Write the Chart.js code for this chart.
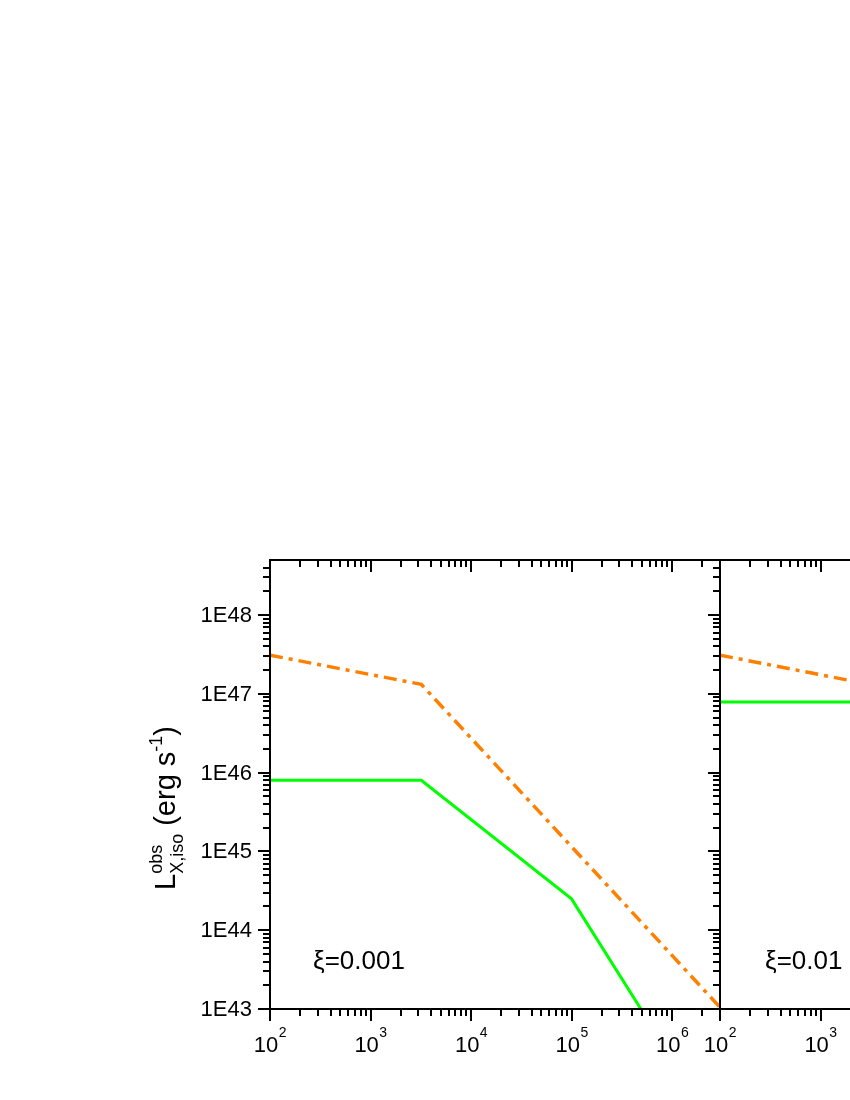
<!DOCTYPE html>
<html>
<head>
<meta charset="utf-8">
<script src="https://cdn.jsdelivr.net/npm/chart.js@4.4.1/dist/chart.umd.min.js"></script>
<style>
  html, body { margin: 0; padding: 0; overflow: hidden; background: #fff; }
  body { position: relative; width: 850px; height: 1100px; }
  canvas { position: absolute; top: 0; }
</style>
</head>
<body>
<canvas id="leftPanel" width="850" height="1100" style="left:0px"></canvas>
<canvas id="rightPanel" width="850" height="1100" style="left:450px"></canvas>
<script>
// axis ranges
const xMin = 1e2, xMax = 3e6;
const yMin = 1e43, yMax = 5e48;

// tick labels
const xTickValues = [1e2, 1e3, 1e4, 1e5, 1e6];
const xTickExponents = ["2", "3", "4", "5", "6"];
const yTickValues = [1e43, 1e44, 1e45, 1e46, 1e47, 1e48];
const yTickLabels = ["1E43", "1E44", "1E45", "1E46", "1E47", "1E48"];

// panel 1 (xi = 0.001)
const p1OrangeX = [1e2, 3.2e3, 1e5, 3e6];
const p1OrangeY = [3.1e47, 1.32e47, 1.15e45, 1.05e43];
const p1GreenX = [1e2, 3.2e3, 1e5, 4.9e5];
const p1GreenY = [8.0e45, 8.0e45, 2.5e44, 1e43];

// panel 2 (xi = 0.01), only the left part is visible
const p2OrangeX = [1e2, 2e3];
const p2OrangeY = [3.1e47, 1.47e47];
const p2GreenX = [1e2, 2e3];
const p2GreenY = [7.9e46, 7.9e46];

const FONT = "'Liberation Sans', Arial, Helvetica, sans-serif";

function toPoints(xs, ys) {
  return xs.map((x, i) => ({ x: x, y: ys[i] }));
}

function minorTicks(majors, max) {
  const out = [];
  majors.forEach(d => {
    for (let k = 2; k <= 9; k++) {
      if (d * k <= max) out.push(d * k);
    }
  });
  return out;
}

const framePlugin = {
  id: "frame",
  afterDraw(chart) {
    const opts = chart.options.plugins.frame;
    const ctx = chart.ctx;
    const area = chart.chartArea;
    const xs = chart.scales.x;
    const ys = chart.scales.y;
    const majLen = 12, minLen = 7;

    const xMajors = xTickValues.slice();
    const xMinors = minorTicks(xTickValues, xMax);
    const yMajors = yTickValues.slice();
    const yMinors = minorTicks(yTickValues, yMax);

    ctx.save();
    ctx.strokeStyle = "#000";
    ctx.lineWidth = 2;
    ctx.lineCap = "butt";

    // box
    ctx.strokeRect(area.left, area.top, area.right - area.left, area.bottom - area.top);

    ctx.beginPath();
    // bottom ticks (out) and top ticks (in)
    xMajors.forEach(v => {
      const px = Math.round(xs.getPixelForValue(v));
      ctx.moveTo(px, area.bottom); ctx.lineTo(px, area.bottom + majLen);
      ctx.moveTo(px, area.top); ctx.lineTo(px, area.top + majLen);
    });
    xMinors.forEach(v => {
      const px = Math.round(xs.getPixelForValue(v));
      ctx.moveTo(px, area.bottom); ctx.lineTo(px, area.bottom + minLen);
      ctx.moveTo(px, area.top); ctx.lineTo(px, area.top + minLen);
    });
    // left ticks (out)
    yMajors.forEach(v => {
      const py = Math.round(ys.getPixelForValue(v));
      ctx.moveTo(area.left, py); ctx.lineTo(area.left - majLen, py);
    });
    yMinors.forEach(v => {
      const py = Math.round(ys.getPixelForValue(v));
      ctx.moveTo(area.left, py); ctx.lineTo(area.left - minLen, py);
    });
    ctx.stroke();

    // x tick labels: "10" with raised exponent
    ctx.fillStyle = "#000";
    ctx.textBaseline = "alphabetic";
    xMajors.forEach((v, i) => {
      const px = xs.getPixelForValue(v);
      ctx.font = "22px " + FONT;
      const wBase = ctx.measureText("10").width;
      ctx.font = "14px " + FONT;
      const wExp = ctx.measureText(xTickExponents[i]).width;
      const x0 = px - (wBase + wExp) / 2;
      ctx.font = "22px " + FONT;
      ctx.textAlign = "left";
      ctx.fillText("10", x0, area.bottom + 43);
      ctx.font = "14px " + FONT;
      ctx.fillText(xTickExponents[i], x0 + wBase + 0.5, area.bottom + 28);
    });

    // y tick labels
    if (opts.yLabels) {
      ctx.font = "22px " + FONT;
      ctx.textAlign = "right";
      ctx.textBaseline = "middle";
      yMajors.forEach((v, i) => {
        ctx.fillText(yTickLabels[i], area.left - 18, ys.getPixelForValue(v) + 1);
      });
    }

    // y axis title
    if (opts.yTitle) {
      const big = "29px " + FONT, small = "18px " + FONT;
      const parts = [
        { t: "L", f: big, dy: 0 },
        { stack: [{ t: "obs", f: small, dy: -13 }, { t: "X,iso", f: small, dy: 8 }] },
        { t: " (erg s", f: big, dy: 0 },
        { t: "-1", f: small, dy: -13 },
        { t: ")", f: big, dy: 0 }
      ];
      let total = 0;
      parts.forEach(p => {
        if (p.stack) {
          p.w = Math.max(...p.stack.map(s => { ctx.font = s.f; return ctx.measureText(s.t).width; }));
        } else {
          ctx.font = p.f; p.w = ctx.measureText(p.t).width;
        }
        total += p.w;
      });
      ctx.translate(175, 808);
      ctx.rotate(-Math.PI / 2);
      ctx.textAlign = "left";
      ctx.textBaseline = "alphabetic";
      let cx = -total / 2;
      parts.forEach(p => {
        if (p.stack) {
          p.stack.forEach(s => { ctx.font = s.f; ctx.fillText(s.t, cx, s.dy); });
        } else {
          ctx.font = p.f; ctx.fillText(p.t, cx, p.dy);
        }
        cx += p.w;
      });
      ctx.setTransform(1, 0, 0, 1, 0, 0);
    }

    // panel annotation
    ctx.font = "26px " + FONT;
    ctx.textAlign = "left";
    ctx.textBaseline = "alphabetic";
    ctx.fillText(opts.note, area.left + opts.noteDx, 969);

    ctx.restore();
  }
};

function makePanel(canvasId, orange, green, opts) {
  const ctx = document.getElementById(canvasId).getContext("2d");
  return new Chart(ctx, {
    type: "line",
    data: {
      datasets: [
        {
          label: "orange",
          data: orange,
          borderColor: "#FF8000",
          borderWidth: 3.5,
          borderDash: [13, 6, 4, 6],
          pointRadius: 0,
          fill: false,
          tension: 0
        },
        {
          label: "green",
          data: green,
          borderColor: "#00FF00",
          borderWidth: 3,
          pointRadius: 0,
          fill: false,
          tension: 0
        }
      ]
    },
    options: {
      responsive: false,
      animation: false,
      layout: { padding: { left: 270, top: 560, right: 130, bottom: 91 } },
      scales: {
        x: { type: "logarithmic", min: xMin, max: xMax, display: false },
        y: { type: "logarithmic", min: yMin, max: yMax, display: false }
      },
      plugins: {
        legend: { display: false },
        tooltip: { enabled: false },
        frame: opts
      }
    },
    plugins: [framePlugin]
  });
}

makePanel("leftPanel", toPoints(p1OrangeX, p1OrangeY), toPoints(p1GreenX, p1GreenY),
  { yLabels: true, yTitle: true, note: "\u03be=0.001", noteDx: 43 });
makePanel("rightPanel", toPoints(p2OrangeX, p2OrangeY), toPoints(p2GreenX, p2GreenY),
  { yLabels: false, yTitle: false, note: "\u03be=0.01", noteDx: 45 });
</script>
</body>
</html>
